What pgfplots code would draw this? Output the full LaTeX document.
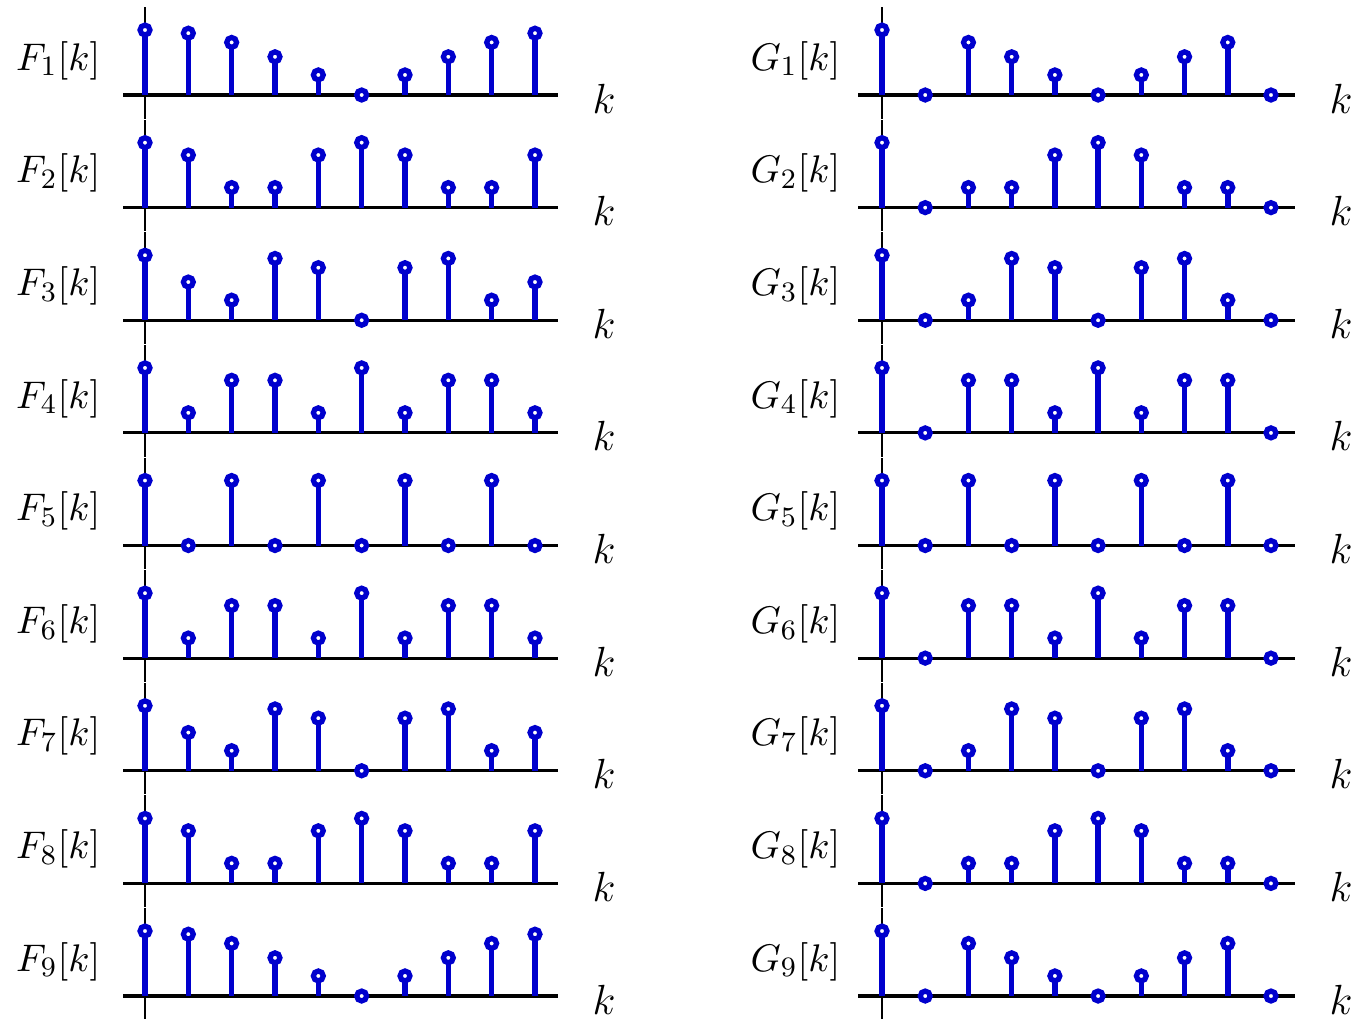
\documentclass[border=0pt]{standalone}
\usepackage{pgfplots}
\usepackage{pgfplotstable}
\pgfplotsset{compat=1.18}
\definecolor{myblue}{RGB}{0,0,205}

\pgfplotstableread{
k F1 F2 F3 F4 F5 F6 F7 F8 F9 G1 G2 G3 G4 G5 G6 G7 G8 G9
0 1 1 1 1 1 1 1 1 1 1 1 1 1 1 1 1 1 1
1 0.951 0.809 0.588 0.309 0 0.309 0.588 0.809 0.951 0 0 0 0 0 0 0 0 0
2 0.809 0.309 0.309 0.809 1 0.809 0.309 0.309 0.809 0.809 0.309 0.309 0.809 1 0.809 0.309 0.309 0.809
3 0.588 0.309 0.951 0.809 0 0.809 0.951 0.309 0.588 0.588 0.309 0.951 0.809 0 0.809 0.951 0.309 0.588
4 0.309 0.809 0.809 0.309 1 0.309 0.809 0.809 0.309 0.309 0.809 0.809 0.309 1 0.309 0.809 0.809 0.309
5 0 1 0 1 0 1 0 1 0 0 1 0 1 0 1 0 1 0
6 0.309 0.809 0.809 0.309 1 0.309 0.809 0.809 0.309 0.309 0.809 0.809 0.309 1 0.309 0.809 0.809 0.309
7 0.588 0.309 0.951 0.809 0 0.809 0.951 0.309 0.588 0.588 0.309 0.951 0.809 0 0.809 0.951 0.309 0.588
8 0.809 0.309 0.309 0.809 1 0.809 0.309 0.309 0.809 0.809 0.309 0.309 0.809 1 0.809 0.309 0.309 0.809
9 0.951 0.809 0.588 0.309 0 0.309 0.588 0.809 0.951 0 0 0 0 0 0 0 0 0
}\data

\pgfplotsset{
  panel/.style={
    scale only axis, anchor=south west,
    height=1.116cm, ymin=-0.3631, ymax=1.3538,
    axis lines=middle, xtick=\empty, ytick=\empty,
    axis line style={-},
    every inner x axis line/.append style={-, line width=0.9pt, black},
    every inner y axis line/.append style={-, line width=0.55pt, black},
    clip=false,
  },
  stem/.style={ycomb, color=myblue, line width=1.6pt, mark=*, mark size=1.4pt,
    mark options={fill=white, draw=myblue, line width=1.5pt}},
}

\newcommand{\lpanel}[2]{%
  \begin{axis}[panel, at={(1.23cm,#1cm)}, width=4.35cm, xmin=-0.5077, xmax=9.5308]
    \addplot[stem] table[x=k,y=#2]{\data};
  \end{axis}}
\newcommand{\rpanel}[2]{%
  \begin{axis}[panel, at={(8.58cm,#1cm)}, width=4.37cm, xmin=-0.5553, xmax=9.556]
    \addplot[stem] table[x=k,y=#2]{\data};
  \end{axis}}

\begin{document}
\begin{tikzpicture}
\path[use as bounding box] (0,0) rectangle (13.6,-10.18);
\lpanel{-1.186}{F1}
\lpanel{-2.3123}{F2}
\lpanel{-3.4385}{F3}
\lpanel{-4.5648}{F4}
\lpanel{-5.691}{F5}
\lpanel{-6.8173}{F6}
\lpanel{-7.9435}{F7}
\lpanel{-9.0698}{F8}
\lpanel{-10.196}{F9}
\rpanel{-1.186}{G1}
\rpanel{-2.3123}{G2}
\rpanel{-3.4385}{G3}
\rpanel{-4.5648}{G4}
\rpanel{-5.691}{G5}
\rpanel{-6.8173}{G6}
\rpanel{-7.9435}{G7}
\rpanel{-9.0698}{G8}
\rpanel{-10.196}{G9}
\foreach \i in {1,...,9} {
  \pgfmathsetmacro\yc{-(60.5+112.625*(\i-1))/100}
  \pgfmathsetmacro\yk{-(113+112.625*(\i-1))/100}
  \node[anchor=east, inner sep=0, font=\fontsize{10.95}{13}\selectfont] at (1.01,\yc) {$F_{\i}[k]$};
  \node[anchor=east, inner sep=0, font=\fontsize{10.95}{13}\selectfont] at (8.41,\yc) {$G_{\i}[k]$};
  \node[anchor=base, inner sep=0, font=\fontsize{12}{14}\selectfont] at (6.04,\yk) {$k$};
  \node[anchor=base, inner sep=0, font=\fontsize{12}{14}\selectfont] at (13.41,\yk) {$k$};
}
\end{tikzpicture}
\end{document}
